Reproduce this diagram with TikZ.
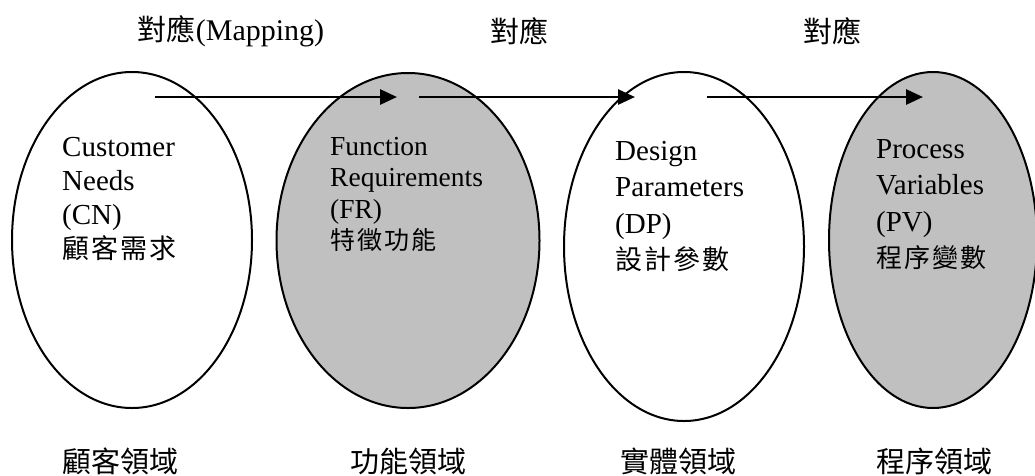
\documentclass[tikz,border=0pt]{standalone}
\usepackage{fontspec}
\setmainfont{Liberation Serif}
\newfontfamily\cjk{Noto Sans CJK TC}
\newfontfamily\cjkwide[LetterSpace=8]{Noto Sans CJK TC}
\usetikzlibrary{shapes.geometric,arrows.meta}
\definecolor{silver}{RGB}{192,192,192}

\begin{document}
\begin{tikzpicture}[x=1pt,y=-1pt,domE/.style={shape=ellipse,draw=black,line width=2pt,inner sep=0pt},domW/.style={domE,fill=white},domG/.style={domE,fill=silver},desc/.style={anchor=north west,align=left,inner sep=0pt},lbl/.style={inner sep=0pt,font=\cjk\fontsize{29}{32}\selectfont},map/.style={line width=2.8pt,-{Triangle[length=17pt,width=15pt]}}]
\useasboundingbox (0,0) rectangle (1035,475);

% the four domains
\node[domW,minimum width=240,minimum height=336] (CN) at (132,240) {};
\node[domG,minimum width=263,minimum height=335] (FR) at (408,240.5) {};
\node[domW,minimum width=240,minimum height=349] (DP) at (684,246.5) {};
\node[domG,minimum width=208,minimum height=336] (PV) at (933,240) {};

\node[desc,font=\fontsize{29}{34}\selectfont] (CNtxt) at (62,137) {Customer\\Needs\\(CN)\\{\cjkwide\fontsize{27}{34}\selectfont 顧客需求}};
\node[desc,font=\fontsize{27.5}{31.5}\selectfont] (FRtxt) at (330,137) {Function\\Requirements\\(FR)\\{\cjkwide\fontsize{25}{31.5}\selectfont 特徵功能}};
\node[desc,font=\fontsize{29}{36.5}\selectfont] (DPtxt) at (615,141) {Design\\Parameters\\(DP)\\{\cjkwide\fontsize{27}{36.5}\selectfont 設計參數}};
\node[desc,font=\fontsize{29}{36.5}\selectfont] (PVtxt) at (876,139) {Process\\Variables\\(PV)\\{\cjkwide\fontsize{26}{36.5}\selectfont 程序變數}};

% mappings
\coordinate (m1a) at (155,97);
\coordinate (m1b) at (397,97);
\coordinate (m2a) at (419,97);
\coordinate (m2b) at (635,97);
\coordinate (m3a) at (707,97);
\coordinate (m3b) at (923,97);
\draw[map] (m1a) -- (m1b);
\draw[map] (m2a) -- (m2b);
\draw[map] (m3a) -- (m3b);

\node[lbl] (map1) at (231,31) {對應{\rmfamily\fontsize{30}{32}\selectfont(Mapping)}};
\node[lbl] (map2) at (519,31) {對應};
\node[lbl] (map3) at (832,31) {對應};

% domain names
\node[lbl] (CNlbl) at (120,461) {顧客領域};
\node[lbl] (FRlbl) at (408,461) {功能領域};
\node[lbl] (DPlbl) at (678,461) {實體領域};
\node[lbl] (PVlbl) at (934,461) {程序領域};
\end{tikzpicture}
\end{document}
